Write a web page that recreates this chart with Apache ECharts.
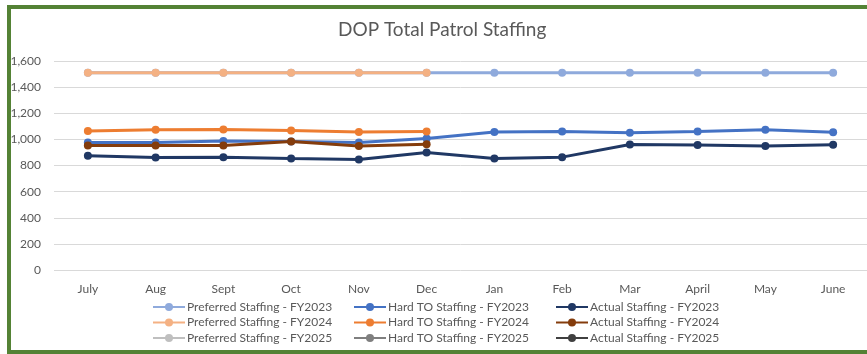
<!DOCTYPE html>
<html>
<head>
<meta charset="utf-8">
<script src="https://cdn.jsdelivr.net/npm/echarts@6/dist/echarts.min.js"></script>
<style>
  html, body { margin: 0; padding: 0; background: #fff; }
  #wrap { position: relative; width: 867px; height: 354px; overflow: hidden; }
  #chart { position: absolute; left: 0; top: 0; width: 867px; height: 354px; }
  #frame { position: absolute; left: 7px; top: 5px; width: 880px; height: 349px;
           border: 4px solid #548235; box-sizing: border-box; pointer-events: none; }
</style>
</head>
<body>
<div id="wrap">
  <div id="chart"></div>
  <div id="frame"></div>
</div>
<script>
const months = ['July', 'Aug', 'Sept', 'Oct', 'Nov', 'Dec', 'Jan', 'Feb', 'Mar', 'April', 'May', 'June'];

const preferredFY2023 = [1510, 1510, 1510, 1510, 1510, 1510, 1510, 1510, 1510, 1510, 1510, 1510];
const hardToFY2023    = [976, 976, 988, 984, 976, 1007, 1057, 1060, 1050, 1060, 1073, 1055];
const actualFY2023    = [874, 861, 864, 854, 846, 900, 854, 864, 961, 956, 950, 958];

const preferredFY2024 = [1510, 1510, 1510, 1510, 1510, 1510, null, null, null, null, null, null];
const hardToFY2024    = [1065, 1073, 1076, 1068, 1057, 1060, null, null, null, null, null, null];
const actualFY2024    = [953, 953, 953, 984, 950, 963, null, null, null, null, null, null];

const preferredFY2025 = [];
const hardToFY2025    = [];
const actualFY2025    = [];

const FONT = 'Lato';
const TEXT = '#595959';

function line(name, data, color, z) {
  return {
    name, type: 'line', data, z,
    symbol: 'circle', symbolSize: 8,
    lineStyle: { width: 3, color },
    itemStyle: { color },
    emphasis: { disabled: true },
    connectNulls: false
  };
}

const series = [
  line('Preferred Staffing - FY2023', preferredFY2023, '#8FAADC', 2),
  line('Hard TO Staffing - FY2023', hardToFY2023, '#4472C4', 3),
  line('Actual Staffing - FY2023', actualFY2023, '#203864', 4),
  line('Preferred Staffing - FY2024', preferredFY2024, '#F4B183', 5),
  line('Hard TO Staffing - FY2024', hardToFY2024, '#ED7D31', 6),
  line('Actual Staffing - FY2024', actualFY2024, '#843C0C', 7),
  line('Preferred Staffing - FY2025', preferredFY2025, '#BFBFBF', 8),
  line('Hard TO Staffing - FY2025', hardToFY2025, '#7F7F7F', 9),
  line('Actual Staffing - FY2025', actualFY2025, '#404040', 10)
];

// one vertical legend per column, three rows each
function legendCol(left, names) {
  return {
    orient: 'vertical', left, top: 300, height: 54,
    padding: 0,
    itemWidth: 32, itemHeight: 10, itemGap: 1.5,
    selectedMode: false,
    textStyle: { fontFamily: FONT, fontSize: 12, lineHeight: 14, color: TEXT, padding: [0, 0, 0, -3] },
    data: names
  };
}

const chart = echarts.init(document.getElementById('chart'), null, { renderer: 'canvas' });
chart.setOption({
  animation: false,
  backgroundColor: '#fff',
  title: {
    text: 'DOP Total Patrol Staffing',
    left: 338, top: 20, padding: 0,
    textStyle: { fontFamily: FONT, fontSize: 19, fontWeight: 'normal', color: TEXT }
  },
  legend: [
    legendCol(152, [series[0].name, series[3].name, series[6].name]),
    legendCol(353, [series[1].name, series[4].name, series[7].name]),
    legendCol(555, [series[2].name, series[5].name, series[8].name])
  ],
  grid: { left: 54, right: -2, top: 61, bottom: 84 },
  xAxis: {
    type: 'category', data: months, boundaryGap: true,
    axisLine: { show: false }, axisTick: { show: false },
    axisLabel: { fontFamily: FONT, fontSize: 12, color: TEXT, margin: 13 }
  },
  yAxis: {
    type: 'value', min: 0, max: 1600, interval: 200,
    axisLine: { show: false }, axisTick: { show: false },
    splitLine: { lineStyle: { color: '#D9D9D9', width: 1 } },
    axisLabel: {
      fontFamily: FONT, fontSize: 12, color: TEXT, margin: 13,
      formatter: v => v.toLocaleString('en-US')
    }
  },
  series
});
</script>
</body>
</html>
